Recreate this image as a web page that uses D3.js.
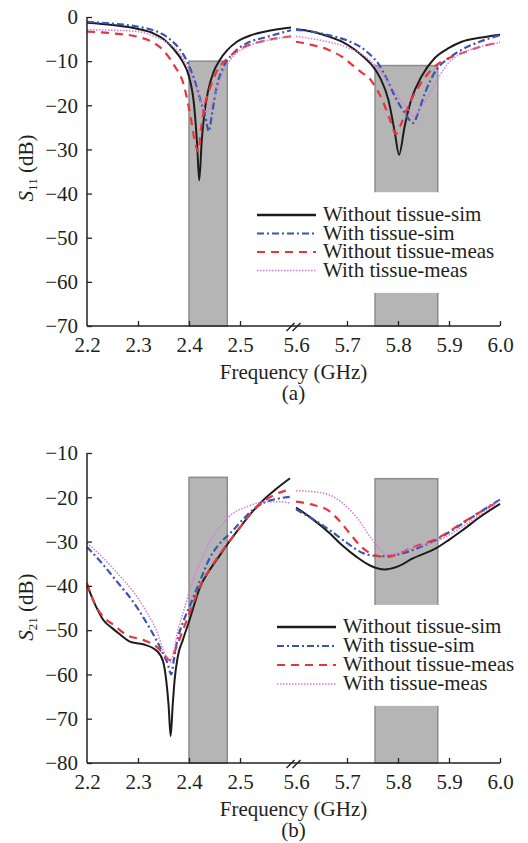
<!DOCTYPE html>
<html>
<head>
<meta charset="utf-8">
<script src="https://cdn.jsdelivr.net/npm/d3@7/dist/d3.min.js"></script>
<style>
  html, body { margin: 0; padding: 0; background: #fff; }
  svg { display: block; }
</style>
</head>
<body>
<svg id="chart" width="528" height="843"></svg>
<script>
// ---------- Data ----------
// Frequency axis (GHz), split between the 2.4 GHz and 5.8 GHz bands
const xTickValues = [2.2, 2.3, 2.4, 2.5, 5.6, 5.7, 5.8, 5.9, 6.0];
const xTickLabels = ["2.2", "2.3", "2.4", "2.5", "5.6", "5.7", "5.8", "5.9", "6.0"];
const s11Ticks = [0, -10, -20, -30, -40, -50, -60, -70];
const s21Ticks = [-10, -20, -30, -40, -50, -60, -70, -80];
const seriesNames = ["Without tissue-sim", "With tissue-sim", "Without tissue-meas", "With tissue-meas"];

// ISM bands shaded in both panels (GHz)
const bandLow = [2.4, 2.475];
const bandHigh = [5.755, 5.878];

// S11 (dB) — [frequency GHz, dB]
const s11WithoutSimLow = [[2.2,-1.3],[2.25,-1.8],[2.3,-2.7],[2.33,-3.7],[2.35,-5],[2.37,-7.3],[2.387,-10],[2.4,-13.5],[2.41,-20],[2.416,-29],[2.42,-37],[2.425,-28],[2.43,-22],[2.437,-17],[2.448,-12.5],[2.46,-9.8],[2.475,-7.5],[2.494,-5.6],[2.52,-4.2],[2.55,-3.3],[2.6,-2.4]];
const s11WithSimLow = [[2.2,-1.1],[2.25,-1.5],[2.3,-2.2],[2.33,-3],[2.35,-4],[2.37,-5.8],[2.38,-7],[2.39,-8.7],[2.4,-11],[2.41,-14],[2.422,-18.7],[2.432,-22.5],[2.439,-25.9],[2.445,-22],[2.455,-15.5],[2.468,-11.2],[2.487,-8.2],[2.514,-5.9],[2.55,-4.6],[2.6,-3.0]];
const s11WithoutMeasLow = [[2.2,-3.3],[2.25,-3.7],[2.3,-4.5],[2.33,-5.8],[2.35,-7.6],[2.37,-10.8],[2.39,-15.5],[2.403,-22.5],[2.413,-29],[2.418,-30.5],[2.424,-25],[2.43,-20.5],[2.44,-16.5],[2.455,-12.2],[2.474,-9.5],[2.5,-7.3],[2.55,-5.3],[2.6,-4.4]];
const s11WithMeasLow = [[2.2,-2.9],[2.25,-3],[2.3,-3.3],[2.33,-4.3],[2.35,-5.3],[2.37,-6.8],[2.39,-9.7],[2.41,-15],[2.425,-19.5],[2.435,-21.5],[2.445,-19.5],[2.461,-14.2],[2.481,-9.7],[2.514,-6.7],[2.55,-5.4],[2.6,-4.4]];

const s11WithoutSimHigh = [[5.6,-2.8],[5.63,-3.3],[5.663,-4.4],[5.69,-5.6],[5.715,-7.4],[5.735,-9.3],[5.748,-10.8],[5.765,-13.8],[5.781,-18.7],[5.794,-26.3],[5.802,-31.2],[5.813,-24.8],[5.826,-18.7],[5.846,-13.5],[5.872,-9.3],[5.9,-7],[5.925,-5.6],[5.96,-4.7],[6.0,-4]];
const s11WithSimHigh = [[5.6,-2.9],[5.63,-3.3],[5.663,-4.1],[5.7,-5.3],[5.728,-6.9],[5.745,-8.5],[5.761,-10.5],[5.78,-14.5],[5.794,-18],[5.813,-21.7],[5.83,-24],[5.84,-21.5],[5.853,-17.2],[5.875,-12],[5.9,-9.3],[5.925,-7.4],[5.96,-5.6],[6.0,-4.1]];
const s11WithoutMeasHigh = [[5.6,-5.6],[5.63,-6.3],[5.663,-7.4],[5.69,-9],[5.722,-12],[5.748,-14.5],[5.77,-19],[5.785,-23.5],[5.796,-26.5],[5.805,-24.5],[5.82,-20.2],[5.845,-15],[5.872,-11.2],[5.9,-9.3],[5.925,-8.2],[5.96,-6.8],[6.0,-5.7]];
const s11WithMeasHigh = [[5.6,-4.4],[5.65,-5.3],[5.696,-6.7],[5.73,-8.5],[5.754,-10.8],[5.78,-14.5],[5.8,-18],[5.82,-21],[5.83,-22.5],[5.845,-20.5],[5.866,-16.5],[5.898,-10.5],[5.93,-8],[5.96,-6.8],[6.0,-5.8]];

// S21 (dB) — [frequency GHz, dB]
const s21WithoutSimLow = [[2.2,-39.8],[2.215,-44],[2.232,-47.7],[2.25,-49.6],[2.265,-51],[2.284,-52.6],[2.31,-53.2],[2.336,-54.6],[2.349,-57],[2.356,-62],[2.36,-67],[2.364,-73.9],[2.368,-67],[2.372,-61],[2.378,-56],[2.388,-52.2],[2.401,-47.7],[2.422,-40.2],[2.44,-36.5],[2.455,-34],[2.476,-30.5],[2.5,-26.8],[2.527,-22.9],[2.546,-20.6],[2.57,-18.2],[2.598,-15.7]];
const s21WithSimLow = [[2.2,-31.2],[2.23,-35],[2.262,-39.5],[2.29,-43.5],[2.315,-48],[2.335,-52],[2.35,-55.5],[2.358,-57.5],[2.365,-60],[2.37,-57],[2.375,-53.5],[2.39,-47.7],[2.401,-44.7],[2.425,-37.9],[2.442,-33.4],[2.46,-30.5],[2.481,-28.1],[2.51,-24.5],[2.533,-22.1],[2.56,-20.7],[2.579,-20.2],[2.6,-19.9]];
const s21WithoutMeasLow = [[2.2,-39.4],[2.215,-44],[2.232,-47],[2.252,-48.8],[2.278,-51.1],[2.31,-52.2],[2.336,-53.7],[2.355,-56],[2.361,-56.8],[2.371,-55],[2.38,-52.5],[2.388,-50],[2.401,-46.2],[2.422,-40],[2.445,-35.5],[2.476,-30.4],[2.5,-26.8],[2.52,-23.8],[2.546,-21],[2.57,-19.3],[2.6,-18.2]];
const s21WithMeasLow = [[2.2,-30.3],[2.23,-33.5],[2.26,-37.2],[2.292,-41.5],[2.315,-45.5],[2.336,-50],[2.355,-56],[2.364,-57.2],[2.37,-55],[2.377,-50.7],[2.39,-45.5],[2.41,-38],[2.429,-33],[2.442,-29.8],[2.46,-26.8],[2.478,-24.4],[2.514,-22.1],[2.553,-21],[2.58,-21],[2.6,-21.4]];

const s21WithoutSimHigh = [[5.6,-22.3],[5.63,-24.7],[5.666,-28.1],[5.69,-30.8],[5.718,-33.4],[5.745,-35.4],[5.774,-36.3],[5.8,-35.6],[5.829,-33.8],[5.875,-31.5],[5.9,-29.6],[5.927,-27.4],[5.96,-24.5],[6.0,-21.5]];
const s21WithSimHigh = [[5.6,-22.7],[5.666,-27.4],[5.7,-30.3],[5.731,-32.6],[5.755,-33.2],[5.777,-33.3],[5.8,-32.9],[5.829,-31.9],[5.875,-29.6],[5.927,-25.9],[5.96,-23.4],[6.0,-20.5]];
const s21WithoutMeasHigh = [[5.6,-21],[5.63,-21.6],[5.666,-23.2],[5.685,-25.3],[5.705,-28.1],[5.731,-31.5],[5.755,-33.1],[5.777,-33.5],[5.8,-32.8],[5.829,-31.3],[5.875,-29.4],[5.927,-25.7],[5.96,-23.4],[6.0,-20.8]];
const s21WithMeasHigh = [[5.6,-18.5],[5.63,-18.7],[5.666,-19.5],[5.69,-21.2],[5.718,-24.4],[5.75,-29.6],[5.78,-33],[5.8,-32.6],[5.829,-31.4],[5.875,-30],[5.927,-26.6],[5.96,-24],[6.0,-20.6]];

// ---------- Styles ----------
const FONT = "'Liberation Serif','Times New Roman',Times,serif";
const FS = 21;
const TEXT = "#231f20";
const styles = [
  { color: "#1c1c1c", width: 2.0, dash: null },
  { color: "#3a55b0", width: 2.2, dash: "7,3,2,3" },
  { color: "#e8353d", width: 2.2, dash: "8,6" },
  { color: "#d77bd7", width: 1.5, dash: "1.5,1.5" }
];

const svg = d3.select("#chart");

// Broken frequency axis: 2.2–2.6 GHz on the left, 5.6–6.0 GHz on the right
const x = d3.scaleLinear()
  .domain([2.2, 2.6, 5.6, 6.0])
  .range([87, 291, 296, 500]);

function drawPanel(cfg) {
  const y = d3.scaleLinear().domain(cfg.yDomain).range(cfg.yRange);
  const g = svg.append("g");
  const yBottom = cfg.yRange[0], yTop = cfg.yRange[1];

  // shaded bands
  cfg.bands.forEach(b => {
    g.append("rect")
      .attr("x", x(b.f[0])).attr("y", y(b.top))
      .attr("width", x(b.f[1]) - x(b.f[0]))
      .attr("height", yBottom - y(b.top))
      .attr("fill", "#b5b5b5")
      .attr("stroke", "#8c8c8c").attr("stroke-width", 1.5);
  });

  // curves
  const line = d3.line()
    .x(d => x(d[0])).y(d => y(d[1]))
    .curve(d3.curveMonotoneX);
  cfg.series.forEach((segs, i) => {
    const st = styles[i];
    segs.forEach(seg => {
      g.append("path")
        .datum(seg)
        .attr("d", line)
        .attr("fill", "none")
        .attr("stroke", st.color)
        .attr("stroke-width", st.width)
        .attr("stroke-dasharray", st.dash)
        .attr("stroke-linejoin", "round");
    });
  });

  // legend: white backing, line samples, and one text block with a line per series
  const lg = cfg.legend;
  g.append("rect")
    .attr("x", lg.x - 6).attr("y", y(lg.boxTop))
    .attr("width", 512 - lg.x).attr("height", y(lg.boxBottom) - y(lg.boxTop))
    .attr("fill", "#fff");
  seriesNames.forEach((name, i) => {
    const st = styles[i];
    const yy = lg.y + i * lg.step;
    g.append("line")
      .attr("x1", lg.x).attr("x2", lg.x + 59)
      .attr("y1", yy).attr("y2", yy)
      .attr("stroke", st.color)
      .attr("stroke-width", i === 0 ? 2.4 : st.width)
      .attr("stroke-dasharray", st.dash);
  });
  const lt = g.append("text")
    .attr("font-family", FONT).attr("font-size", FS)
    .attr("fill", TEXT);
  lt.selectAll("tspan").data(seriesNames).enter().append("tspan")
    .attr("x", lg.x + 66)
    .attr("y", (d, i) => lg.y + i * lg.step + 6)
    .text(d => d);

  // y axis
  const yAxis = d3.axisLeft(y).tickValues(cfg.yTicks).tickSize(-5).tickPadding(9)
    .tickFormat(d => d < 0 ? "\u2212" + Math.abs(d) : String(d));
  const ya = g.append("g").attr("transform", `translate(${x(2.2)},0)`).call(yAxis);
  ya.select(".domain").attr("stroke", "#222").attr("stroke-width", 1.5)
    .attr("d", `M0,${yTop}V${yBottom}`);
  ya.selectAll(".tick line").attr("stroke", "#222").attr("stroke-width", 1.3);
  ya.selectAll(".tick text").attr("font-family", FONT).attr("font-size", FS).attr("fill", TEXT);

  // x axis
  const xAxis = d3.axisBottom(x).tickValues(xTickValues).tickSize(-5).tickPadding(11)
    .tickFormat((d, i) => xTickLabels[i]);
  const xa = g.append("g").attr("transform", `translate(0,${yBottom})`).call(xAxis);
  xa.select(".domain").attr("stroke", "#222").attr("stroke-width", 1.5)
    .attr("d", `M${x(2.2)},0H${x(6.0)}`);
  xa.selectAll(".tick line").attr("stroke", "#222").attr("stroke-width", 1.3)
    .filter(d => d === 5.6 || d === 2.2).remove();
  xa.selectAll(".tick text").attr("font-family", FONT).attr("font-size", FS).attr("fill", TEXT);

  // axis break marks
  const bx = (x(2.6) + x(5.6)) / 2;
  [-3, 3].forEach(off => {
    g.append("line")
      .attr("x1", bx + off - 4).attr("y1", yBottom + 5)
      .attr("x2", bx + off + 4).attr("y2", yBottom - 3)
      .attr("stroke", "#222").attr("stroke-width", 1.4);
  });

  // axis titles
  const cx = (x(2.2) + x(6.0)) / 2;
  g.append("text")
    .attr("x", cx).attr("y", yBottom + 53)
    .attr("text-anchor", "middle")
    .attr("font-family", FONT).attr("font-size", FS).attr("fill", TEXT)
    .text("Frequency (GHz)");
  g.append("text")
    .attr("x", cx).attr("y", yBottom + 74)
    .attr("text-anchor", "middle")
    .attr("font-family", FONT).attr("font-size", FS).attr("fill", TEXT)
    .text(cfg.caption);

  const yl = g.append("text")
    .attr("transform", `translate(33,${cfg.yLabelY}) rotate(-90)`)
    .attr("text-anchor", "middle")
    .attr("font-family", FONT).attr("font-size", FS).attr("fill", TEXT);
  yl.append("tspan").attr("font-style", "italic").text("S");
  yl.append("tspan").attr("font-size", 13).attr("dy", 4).text(cfg.sub);
  yl.append("tspan").attr("dy", -4).text(" (dB)");
}

drawPanel({
  yDomain: [-70, 0], yRange: [326, 17], yTicks: s11Ticks,
  bands: [{ f: bandLow, top: -10 }, { f: bandHigh, top: -11 }],
  series: [
    [s11WithoutSimLow, s11WithoutSimHigh],
    [s11WithSimLow, s11WithSimHigh],
    [s11WithoutMeasLow, s11WithoutMeasHigh],
    [s11WithMeasLow, s11WithMeasHigh]
  ],
  legend: { x: 257, y: 215, step: 18.5, boxTop: -39.7, boxBottom: -62.5 },
  caption: "(a)", sub: "11", yLabelY: 168
});

drawPanel({
  yDomain: [-80, -10], yRange: [763, 453], yTicks: s21Ticks,
  bands: [{ f: bandLow, top: -15.5 }, { f: bandHigh, top: -15.8 }],
  series: [
    [s21WithoutSimLow, s21WithoutSimHigh],
    [s21WithSimLow, s21WithSimHigh],
    [s21WithoutMeasLow, s21WithoutMeasHigh],
    [s21WithMeasLow, s21WithMeasHigh]
  ],
  legend: { x: 277, y: 627, step: 19, boxTop: -44.3, boxBottom: -67.1 },
  caption: "(b)", sub: "21", yLabelY: 607
});
</script>
</body>
</html>
